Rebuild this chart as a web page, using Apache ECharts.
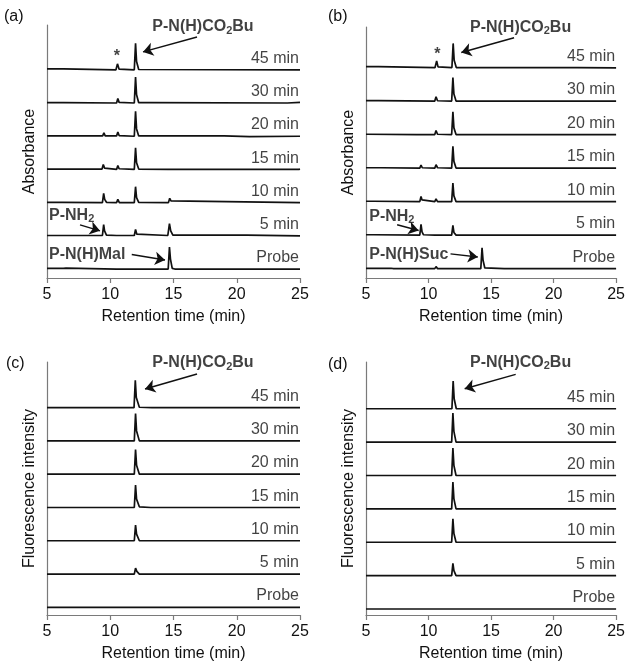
<!DOCTYPE html>
<html>
<head>
<meta charset="utf-8">
<script src="https://cdn.jsdelivr.net/npm/echarts@6/dist/echarts.min.js"></script>
<style>
html,body{margin:0;padding:0;background:#fff;}
#chart{width:628px;height:666px;}
</style>
</head>
<body>
<div id="chart"></div>
<script>
// ---- Data ----
const traceLabels = ['Probe', '5 min', '10 min', '15 min', '20 min', '30 min', '45 min'];
const xTicks = [5, 10, 15, 20, 25];

// Panel (a): absorbance, maleimide probe. [retention time (min), signal above baseline]
const A_probe = [[5,0.02],[6.3,0.02],[6.4,0],[6.5,0.03],[6.6,0],[10.5,0],[10.6,0.04],[10.7,0],[14.58,0],[14.68,0.66],[14.76,0.3],[14.9,0.02],[15.1,0],[25,0]];
const A_5 = [[5,0.01],[9.38,0.01],[9.48,0.34],[9.55,0.15],[9.7,0.02],[10.5,0.01],[10.6,0.07],[10.72,0.01],[11.9,0.01],[12.0,0.19],[12.1,0.05],[12.25,0.01],[14.55,0.01],[14.68,0.37],[14.78,0.15],[14.95,0.02],[20.8,0.02],[20.85,0],[25,0]];
const A_10 = [[5,0.01],[6.2,0.01],[6.3,0],[9.38,0],[9.48,0.28],[9.56,0.1],[9.7,0.01],[10.5,0],[10.6,0.1],[10.72,0],[11.9,0],[12.0,0.48],[12.08,0.15],[12.25,0.01],[14.6,0],[14.7,0.13],[14.8,0.05],[14.95,0],[25,0]];
const A_15 = [[5,0.01],[9.35,0.01],[9.45,0.15],[9.55,0.04],[9.65,0],[10.5,0],[10.6,0.12],[10.7,0.02],[10.8,0],[11.9,0],[12.0,0.65],[12.08,0.2],[12.25,0.01],[14.6,0],[14.7,0.045],[14.85,0],[24.9,0],[24.95,0.02],[25,0.01]];
const A_20 = [[5,0.01],[9.4,0.01],[9.5,0.1],[9.6,0.01],[10.5,0.01],[10.6,0.13],[10.7,0.02],[10.8,0],[11.9,0],[12.0,0.75],[12.08,0.22],[12.25,0.01],[19,0.01],[19.1,-0.01],[21,-0.01],[21.1,0],[25,0]];
const A_30 = [[5,0.01],[6.3,0.01],[6.4,0],[10.5,0],[10.6,0.135],[10.7,0.02],[10.8,0],[11.9,0],[12.0,0.78],[12.08,0.25],[12.25,0.01],[13.1,0.01],[13.15,0.03],[13.2,0],[24,0],[24.1,0.02],[25,0.02]];
const A_45 = [[5,0.03],[6.3,0.03],[6.4,0],[10.45,0],[10.57,0.18],[10.7,0.02],[10.8,0],[11.9,0],[12.0,0.8],[12.08,0.25],[12.25,0.01],[25,0]];

// Panel (b): absorbance, succinimide probe
const B_probe = [[5,0.01],[7.0,0.01],[7.1,0.03],[7.2,0],[10.5,0],[10.6,0.06],[10.72,0],[11.25,0],[11.3,0.02],[11.4,0],[14.18,0],[14.28,0.62],[14.36,0.25],[14.5,0.02],[14.6,0],[16.05,0],[16.1,0.03],[16.2,0],[25,0]];
const B_5 = [[5,0.01],[5.6,0.01],[5.7,0],[9.3,0],[9.4,0.32],[9.48,0.1],[9.6,0.01],[10.5,0],[10.6,0.04],[10.7,0],[11.85,0],[11.95,0.29],[12.03,0.08],[12.2,0],[25,0]];
const B_10 = [[5,0.01],[5.6,0.01],[5.7,0],[9.3,0],[9.4,0.15],[9.48,0.05],[9.6,0],[10.5,0],[10.6,0.08],[10.72,0],[11.85,0],[11.95,0.55],[12.03,0.17],[12.2,0],[13.2,0],[13.25,0.02],[13.3,0],[16.05,0],[16.1,0.02],[16.2,0],[19.5,0],[19.55,0.02],[19.6,0],[25,0]];
const B_15 = [[5,0.01],[6.2,0.01],[6.3,0],[9.3,0],[9.4,0.09],[9.5,0.01],[10.5,0],[10.6,0.1],[10.72,0.01],[11.85,0],[11.95,0.65],[12.03,0.2],[12.2,0],[25,0]];
const B_20 = [[5,0.01],[9.05,0],[9.1,0.03],[9.15,0],[10.5,0],[10.6,0.12],[10.72,0.01],[11.85,0],[11.95,0.68],[12.03,0.2],[12.2,0],[25,0]];
const B_30 = [[5,0.01],[6.0,0.01],[6.1,0],[10.5,0],[10.6,0.13],[10.72,0.01],[11.85,0],[11.95,0.7],[12.03,0.21],[12.2,0],[19.9,0],[19.95,-0.03],[20,0],[25,0]];
const B_45 = [[5,0.03],[6.0,0.03],[6.1,0],[10.52,0],[10.65,0.2],[10.76,0.02],[10.85,0],[11.87,0],[11.97,0.72],[12.05,0.22],[12.22,0],[21.9,0],[22,-0.01],[25,-0.01]];

// Panel (c): fluorescence, maleimide probe
const C_probe = [[5,0],[25,0]];
const C_5 = [[5,0],[6.85,0],[6.9,0.02],[6.95,0],[11.9,0],[12.0,0.18],[12.1,0.08],[12.3,0],[25,0]];
const C_10 = [[5,0],[11.9,0],[12.0,0.47],[12.08,0.2],[12.3,0],[25,0]];
const C_15 = [[5,0],[6.85,0],[6.9,0.02],[6.95,0],[7.45,0],[7.5,0.02],[7.55,0],[8.6,0],[8.65,0.02],[8.7,0],[11.9,0],[12.0,0.67],[12.08,0.25],[12.3,0.02],[12.4,0],[13.2,0],[13.25,0.02],[13.3,0],[25,0]];
const C_20 = [[5,0],[6.85,0],[6.9,0.02],[6.95,0],[11.9,0],[12.0,0.74],[12.08,0.27],[12.3,0],[25,0]];
const C_30 = [[5,0],[11.9,0],[12.0,0.82],[12.08,0.3],[12.3,0],[25,0]];
const C_45 = [[5,0],[6.85,0],[6.9,0.03],[7.0,0],[7.5,0],[7.6,0.03],[7.7,0],[11.88,0],[11.98,0.82],[12.06,0.3],[12.3,0.01],[13.3,0],[13.35,0.03],[13.45,0],[25,0]];

// Panel (d): fluorescence, succinimide probe
const D_probe = [[5,0],[6.9,0],[7.0,0.03],[7.15,0],[11.2,0],[11.3,0.03],[11.45,0],[25,0]];
const D_5 = [[5,0],[11.85,0],[11.95,0.37],[12.03,0.15],[12.2,0],[25,0]];
const D_10 = [[5,0],[11.85,0],[11.95,0.7],[12.03,0.26],[12.2,0],[25,0]];
const D_15 = [[5,0],[11.85,0],[11.95,0.8],[12.03,0.3],[12.2,0],[25,0]];
const D_20 = [[5,0],[11.85,0],[11.95,0.82],[12.03,0.3],[12.2,0],[25,0]];
const D_30 = [[5,0],[7.7,0],[7.76,0.02],[7.82,0],[11.85,0],[11.95,0.87],[12.03,0.32],[12.2,0],[13.1,0],[13.15,0.02],[13.2,0],[25,0]];
const D_45 = [[5,0],[11.87,0],[11.97,0.83],[12.05,0.3],[12.22,0],[25,0]];

// ---- Layout / annotations ----
const CO2BU = '{b|P-N(H)CO}{s|2}{b|Bu}';
const NH2 = '{b|P-NH}{s|2}';
const panels = [
  { letter:'(a)', letterPos:[4,9], yName:'Absorbance', grid:{left:47, top:25, width:253, height:253},
    ymax:7.62, base:0.27, traces:[A_probe,A_5,A_10,A_15,A_20,A_30,A_45],
    texts:[[17.33,7.56,CO2BU,'center'],[10.53,6.66,'{b|*}','center'],[5.16,1.87,NH2,'left'],[5.16,0.72,'{b|P-N(H)Mal}','left']],
    arrows:[[16.86,7.26,12.59,6.81],[7.61,1.60,9.19,1.42],[11.70,0.71,14.33,0.54]] },
  { letter:'(b)', letterPos:[328,9], yName:'Absorbance', grid:{left:366, top:27, width:253, height:251},
    ymax:7.49, base:0.28, traces:[B_probe,B_5,B_10,B_15,B_20,B_30,B_45],
    texts:[[17.36,7.47,CO2BU,'center'],[10.71,6.68,'{b|*}','center'],[5.26,1.83,NH2,'left'],[5.26,0.71,'{b|P-N(H)Suc}','left']],
    arrows:[[16.84,7.17,12.62,6.73],[7.49,1.59,9.21,1.42],[11.76,0.72,13.94,0.63]] },
  { letter:'(c)', letterPos:[6,356], yName:'Fluorescence intensity', grid:{left:47, top:362, width:253, height:253},
    ymax:7.6, base:0.23, traces:[C_probe,C_5,C_10,C_15,C_20,C_30,C_45],
    texts:[[17.33,7.57,CO2BU,'center']],
    arrows:[[16.86,7.24,12.75,6.79]] },
  { letter:'(d)', letterPos:[328,357], yName:'Fluorescence intensity', grid:{left:366, top:362, width:253, height:253},
    ymax:7.58, base:0.18, traces:[D_probe,D_5,D_10,D_15,D_20,D_30,D_45],
    texts:[[17.36,7.56,CO2BU,'center']],
    arrows:[[16.97,7.21,12.89,6.78]] }
];

const FONT = '"Liberation Sans", Arial, sans-serif';
const TXT = '#111';
const AXIS = '#7a7a7a';
const richStyle = {
  b:{fontSize:16, fontWeight:'bold', color:TXT, fontFamily:FONT, lineHeight:18},
  s:{fontSize:11, fontWeight:'bold', color:TXT, fontFamily:FONT, verticalAlign:'bottom', lineHeight:18, padding:[7,0,0,0]}
};

const grids = [], xAxes = [], yAxes = [], series = [], graphics = [];
panels.forEach((p, k) => {
  grids.push(Object.assign({containLabel:false}, p.grid));
  xAxes.push({
    type:'value', gridIndex:k, min:5, max:25, interval:5,
    axisLine:{show:true, lineStyle:{color:AXIS, width:1.2}},
    axisTick:{show:true, length:5, lineStyle:{color:AXIS, width:1.2}},
    axisLabel:{fontSize:16, color:TXT, fontFamily:FONT, margin:9,
      formatter: v => xTicks.indexOf(v) >= 0 ? String(v) : ''},
    splitLine:{show:false},
    name:'Retention time (min)', nameLocation:'middle', nameGap:31,
    nameTextStyle:{fontSize:16, color:TXT, fontFamily:FONT}
  });
  yAxes.push({
    type:'value', gridIndex:k, min:0, max:p.ymax,
    axisLine:{show:true, onZero:false, lineStyle:{color:AXIS, width:1.2}},
    axisTick:{show:false}, axisLabel:{show:false}, splitLine:{show:false},
    name:p.yName, nameLocation:'middle', nameGap:9,
    nameTextStyle:{fontSize:16, color:TXT, fontFamily:FONT}
  });
  p.traces.forEach((tr, i) => {
    series.push({
      type:'line', xAxisIndex:k, yAxisIndex:k, symbol:'none', silent:true, animation:false,
      lineStyle:{color:'#111', width:1.7}, clip:false,
      data: tr.map(([t, v]) => [t, p.base + i + v])
    });
  });
  // time labels
  series.push({
    type:'scatter', xAxisIndex:k, yAxisIndex:k, symbolSize:1, silent:true, animation:false, clip:false,
    itemStyle:{color:'rgba(0,0,0,0)'},
    label:{show:true, position:'inside', align:'right', verticalAlign:'middle',
      fontSize:16, color:TXT, fontFamily:FONT, formatter: d => d.name},
    data: traceLabels.map((s, i) => ({name:s, value:[24.92, p.base + i + 0.34]}))
  });
  // compound labels + arrows
  series.push({
    type:'scatter', xAxisIndex:k, yAxisIndex:k, symbolSize:1, silent:true, animation:false, clip:false,
    itemStyle:{color:'rgba(0,0,0,0)'},
    label:{show:true, position:'inside', verticalAlign:'middle', rich:richStyle, formatter: d => d.name},
    data: p.texts.map(t => ({name:t[2], value:[t[0], t[1]], label:{align:t[3]}})),
    markLine:{
      silent:true, animation:false, symbol:['none','arrow'], symbolSize:10,
      itemStyle:{color:'#111'},
      lineStyle:{color:'#111', width:1.5, type:'solid'}, label:{show:false},
      data: p.arrows.map(a => [{coord:[a[0], a[1]]}, {coord:[a[2], a[3]]}])
    }
  });
  graphics.push({type:'text', left:p.letterPos[0], top:p.letterPos[1],
    style:{text:p.letter, fontSize:16, fill:TXT, fontFamily:FONT}});
});

const chart = echarts.init(document.getElementById('chart'), null, {renderer:'canvas'});
chart.setOption({
  animation:false,
  backgroundColor:'#fff',
  textStyle:{fontFamily:FONT},
  grid:grids, xAxis:xAxes, yAxis:yAxes, series:series, graphic:graphics
});
</script>
</body>
</html>
